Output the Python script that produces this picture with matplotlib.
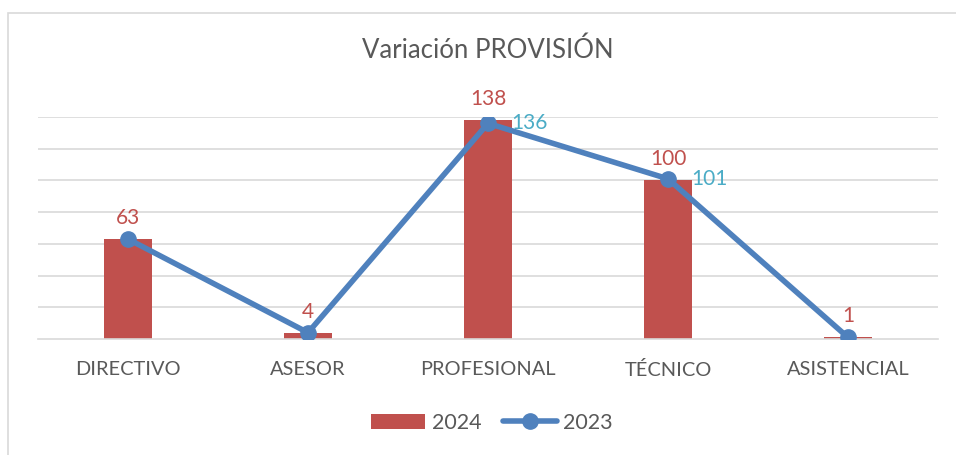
import matplotlib
matplotlib.use("Agg")
import matplotlib.pyplot as plt
from matplotlib.patches import Rectangle
import numpy as np

categories = ["DIRECTIVO", "ASESOR", "PROFESIONAL", "TÉCNICO", "ASISTENCIAL"]
values_2024 = [63, 4, 138, 100, 1]
values_2023 = [63, 4, 136, 101, 1]
labels_2023_shown = [False, False, True, True, False]

plt.rcParams['font.family'] = ['Lato', 'DejaVu Sans']

W, H = 956, 455
fig = plt.figure(figsize=(W / 100, H / 100), dpi=100)
fig.patch.set_facecolor("white")

# outer chart border (extends beyond right/bottom edges)
fig.patches.append(Rectangle((8 / W, -0.05), 1.1, (H - 12.5) / H + 0.05,
                             transform=fig.transFigure, fill=False,
                             edgecolor="#D9D9D9", linewidth=1.2))

ax = fig.add_axes([38 / W, (H - 339) / H, 900 / W, (339 - 117) / H])
x = np.arange(len(categories))
red = "#C0504D"
blue = "#4F81BD"
cyan = "#4BACC6"
grey_text = "#595959"

ax.set_xlim(-0.5, len(categories) - 0.5)
ax.set_ylim(0, 140)
ax.set_yticks(np.arange(20, 141, 20))
ax.yaxis.grid(True, color="#D9D9D9", linewidth=1.2)
ax.set_axisbelow(True)
for s in ["top", "right", "left"]:
    ax.spines[s].set_visible(False)
ax.spines["bottom"].set_color("#D9D9D9")
ax.spines["bottom"].set_linewidth(1.2)
ax.tick_params(axis="y", left=False, labelleft=False)
ax.tick_params(axis="x", bottom=False, pad=12, labelsize=14.4, labelcolor=grey_text)
ax.set_xticks(x)
ax.set_xticklabels(categories)

bars = ax.bar(x, values_2024, width=0.27, color=red, label="2024", zorder=2)
ax.plot(x, values_2023, color=blue, linewidth=4, marker="o", markersize=11,
        label="2023", zorder=3, solid_capstyle="round")

for xi, v in zip(x, values_2024):
    ax.annotate(str(v), (xi, v), xytext=(0, 8), textcoords="offset points",
                ha="center", va="bottom", color=red, fontsize=15)
for xi, v, show in zip(x, values_2023, labels_2023_shown):
    if show:
        ax.annotate(str(v), (xi, v), xytext=(17, 0), textcoords="offset points",
                    ha="left", va="center", color=cyan, fontsize=15)

fig.text(488 / W, 1 - 50 / H, "Variación PROVISIÓN", ha="center", va="center",
         fontsize=18.5, color=grey_text)

leg = fig.legend(handles=[bars, ax.lines[0]], labels=["2024", "2023"],
                 loc="center", bbox_to_anchor=(492 / W, 1 - 423 / H), ncol=2,
                 frameon=False, fontsize=15.5, handlelength=2.5, columnspacing=1.0,
                 handletextpad=0.3, labelcolor=grey_text)

fig.savefig("out.png", dpi=100, facecolor="white")
